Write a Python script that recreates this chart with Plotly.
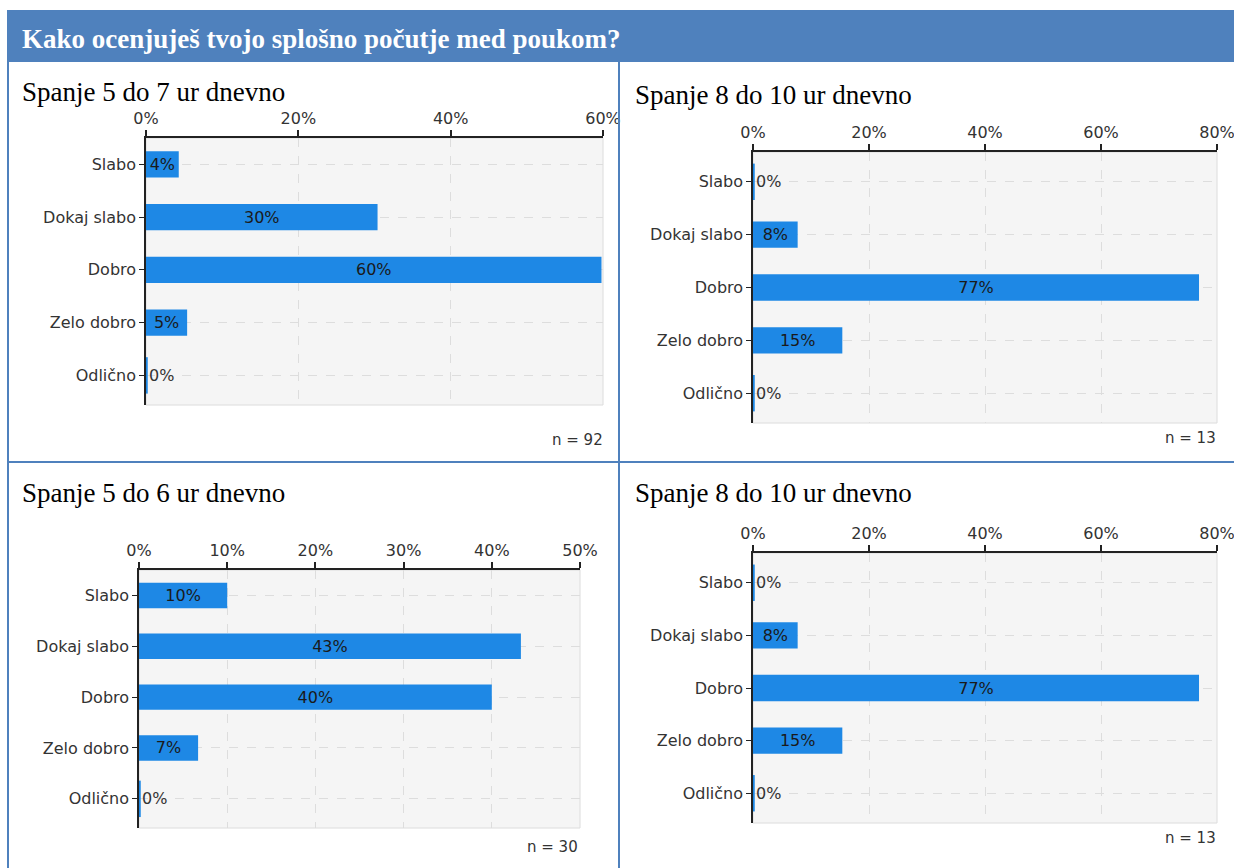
import plotly.graph_objects as go

# ---------------- data ----------------
categories = ["Slabo", "Dokaj slabo", "Dobro", "Zelo dobro", "Odlično"]

header_text = "Kako ocenjuješ tvojo splošno počutje med poukom?"

title_tl = "Spanje 5 do 7 ur dnevno"
title_tr = "Spanje 8 do 10 ur dnevno"
title_bl = "Spanje 5 do 6 ur dnevno"
title_br = "Spanje 8 do 10 ur dnevno"

values_tl = [4.3, 30.4, 59.8, 5.4, 0.0]
values_tr = [0.0, 7.7, 76.9, 15.4, 0.0]
values_bl = [10.0, 43.3, 40.0, 6.7, 0.0]
values_br = [0.0, 7.7, 76.9, 15.4, 0.0]

n_tl = 92
n_tr = 13
n_bl = 30
n_br = 13

ticks_tl = [0, 20, 40, 60]
ticks_tr = [0, 20, 40, 60, 80]
ticks_bl = [0, 10, 20, 30, 40, 50]
ticks_br = [0, 20, 40, 60, 80]

# ---------------- layout helpers ----------------
W, H = 1234, 868
def px(x):
    return x / W
def py(y):
    return 1 - y / H

BAR_COLOR = "#1e88e5"
FRAME_COLOR = "#4f81bd"
AXIS_FONT = dict(family="DejaVu Sans", size=16, color="#333333")
SERIF = "Liberation Serif"

panels = [
    dict(values=values_tl, ticks=ticks_tl, title=title_tl, n=n_tl,
         xd=(146, 603), yd=(138, 405), tpos=(20, 92), npos=(605, 440)),
    dict(values=values_tr, ticks=ticks_tr, title=title_tr, n=n_tr,
         xd=(753, 1217), yd=(152, 423), tpos=(633, 95), npos=(1218, 438)),
    dict(values=values_bl, ticks=ticks_bl, title=title_bl, n=n_bl,
         xd=(139, 580), yd=(570, 828), tpos=(20, 493), npos=(580, 847)),
    dict(values=values_br, ticks=ticks_br, title=title_br, n=n_br,
         xd=(753, 1217), yd=(553, 823), tpos=(633, 493), npos=(1218, 838)),
]

fig = go.Figure()
annotations = []
shapes = []
layout_axes = {}

for i, p in enumerate(panels, start=1):
    xa = "x" if i == 1 else f"x{i}"
    ya = "y" if i == 1 else f"y{i}"
    vals = p["values"]
    fig.add_trace(go.Bar(
        x=vals, y=categories, orientation="h",
        xaxis=xa, yaxis=ya,
        marker=dict(color=BAR_COLOR, line=dict(width=0)),
        width=0.5,
        text=[f"{round(v)}%" for v in vals],
        textposition=["inside" if v > 0 else "outside" for v in vals],
        insidetextanchor="middle",
        constraintext="none",
        textfont=dict(family="DejaVu Sans", size=16, color="#1a1a1a"),
        outsidetextfont=dict(family="DejaVu Sans", size=16, color="#333333"),
        cliponaxis=False,
        showlegend=False,
        hoverinfo="skip",
    ))
    # thin sliver that marks zero-valued answers at the axis
    zero_cats = [c for c, v in zip(categories, vals) if v == 0]
    zero_vals = [v for v in vals if v == 0]
    if zero_cats:
        fig.add_trace(go.Scatter(
            x=zero_vals, y=zero_cats, mode="markers",
            xaxis=xa, yaxis=ya,
            marker=dict(symbol="line-ns-open", size=26, color=BAR_COLOR,
                        line=dict(color=BAR_COLOR, width=3.5)),
            cliponaxis=False, showlegend=False, hoverinfo="skip",
        ))
    xkey = "xaxis" if i == 1 else f"xaxis{i}"
    ykey = "yaxis" if i == 1 else f"yaxis{i}"
    layout_axes[xkey] = dict(
        domain=[px(p["xd"][0]), px(p["xd"][1])],
        anchor=ya, side="top",
        range=[0, p["ticks"][-1]],
        tickmode="array", tickvals=p["ticks"],
        ticktext=[f"{t}%" for t in p["ticks"]],
        showline=True, linecolor="#222222", linewidth=1.5,
        ticks="outside", ticklen=6, tickcolor="#222222", tickwidth=1.5,
        showgrid=True, gridcolor="#dddddd", griddash="dash", gridwidth=1,
        zeroline=False, tickfont=AXIS_FONT, fixedrange=True,
        automargin=False, ticklabeloverflow="allow",
    )
    layout_axes[ykey] = dict(
        domain=[py(p["yd"][1]), py(p["yd"][0])],
        anchor=xa, type="category",
        categoryorder="array", categoryarray=categories,
        autorange="reversed",
        showline=True, linecolor="#222222", linewidth=1.5,
        ticks="outside", ticklen=5, tickcolor="#222222", tickwidth=1,
        showgrid=True, gridcolor="#dddddd", griddash="dash", gridwidth=1,
        zeroline=False, tickfont=AXIS_FONT, fixedrange=True,
        automargin=False, ticklabeloverflow="allow",
    )
    shapes.append(dict(
        type="rect", xref=f"{xa} domain", yref=f"{ya} domain",
        x0=0, x1=1, y0=0, y1=1,
        line=dict(color="#dcdcdc", width=1), layer="below",
    ))
    annotations.append(dict(
        text=p["title"], xref="paper", yref="paper",
        x=px(p["tpos"][0]), y=py(p["tpos"][1]),
        xanchor="left", yanchor="middle", showarrow=False,
        font=dict(family=SERIF, size=27, color="#000000"),
    ))
    annotations.append(dict(
        text=f"n = {p['n']}", xref="paper", yref="paper",
        x=px(p["npos"][0]), y=py(p["npos"][1]),
        xanchor="right", yanchor="middle", showarrow=False,
        font=dict(family="DejaVu Sans", size=15, color="#333333"),
    ))

# header band
shapes.append(dict(type="rect", xref="paper", yref="paper",
                   x0=px(7), x1=1, y0=py(62), y1=py(10),
                   fillcolor=FRAME_COLOR, line=dict(width=0), layer="below"))
# frame lines
shapes.append(dict(type="line", xref="paper", yref="paper",
                   x0=px(8), x1=px(8), y0=py(10), y1=0,
                   line=dict(color=FRAME_COLOR, width=2)))
shapes.append(dict(type="line", xref="paper", yref="paper",
                   x0=px(619), x1=px(619), y0=py(62), y1=0,
                   line=dict(color=FRAME_COLOR, width=2)))
shapes.append(dict(type="line", xref="paper", yref="paper",
                   x0=px(7), x1=1, y0=py(462), y1=py(462),
                   line=dict(color=FRAME_COLOR, width=2)))

annotations.append(dict(
    text=f"<b>{header_text}</b>", xref="paper", yref="paper",
    x=px(20), y=py(39), xanchor="left", yanchor="middle", showarrow=False,
    font=dict(family=SERIF, size=27, color="#ffffff"),
))

fig.update_layout(
    width=W, height=H,
    margin=dict(l=0, r=0, t=0, b=0, pad=0, autoexpand=False),
    paper_bgcolor="#ffffff",
    plot_bgcolor="#f5f5f5",
    annotations=annotations,
    shapes=shapes,
    showlegend=False,
    **layout_axes,
)

fig.write_html("out.html", config={"displayModeBar": False})
